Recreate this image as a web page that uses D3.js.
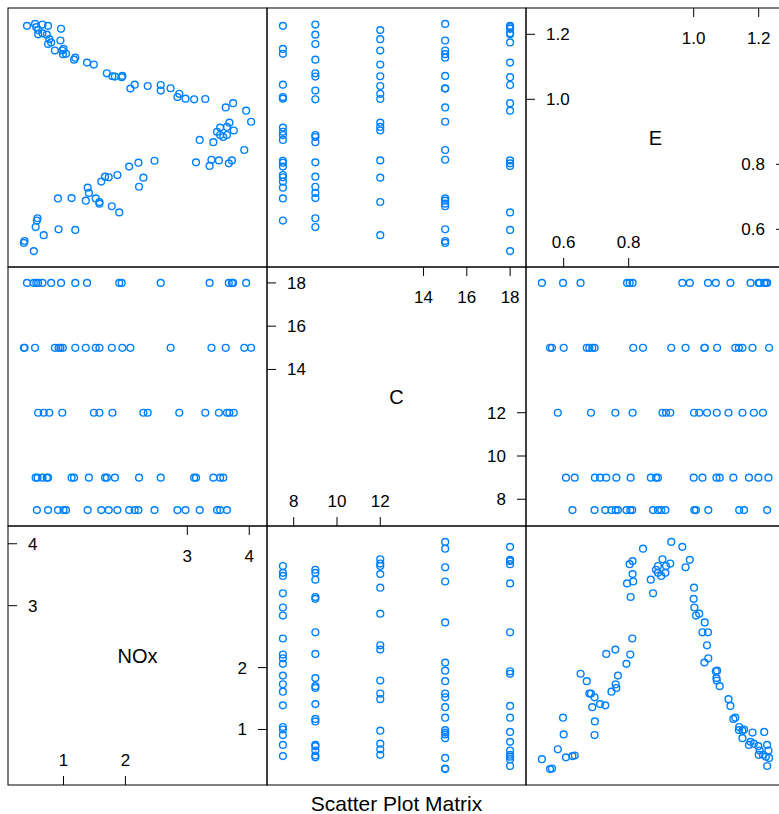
<!DOCTYPE html>
<html>
<head>
<meta charset="utf-8">
<script src="https://cdn.jsdelivr.net/npm/d3@7"></script>
<style>
  body { margin: 0; background: #fff; }
  text { font-family: "Liberation Sans", Arial, sans-serif; fill: #000; }
</style>
</head>
<body>
<svg id="splom" width="779" height="814"></svg>
<script>
// ethanol-like data (grouped by C level)
const noxVals = [
  3.64, 3.53, 3.48, 3.20, 2.97, 2.84, 2.47, 2.21, 2.15, 2.06, 1.87, 1.73, 1.61, 1.39, 1.04, 1.00, 0.91, 0.75, 0.57,
  3.58, 3.53, 3.42, 3.14, 3.11, 2.57, 2.22, 1.83, 1.70, 1.67, 1.41, 1.17, 1.13, 0.75, 0.73, 0.66, 0.58, 0.55,
  3.75, 3.68, 3.64, 3.51, 3.29, 2.87, 2.36, 2.29, 1.79, 1.58, 1.49, 0.98, 0.77, 0.68, 0.59,
  4.03, 3.92, 3.62, 3.39, 2.73, 2.08, 1.95, 1.78, 1.58, 1.52, 1.36, 1.19, 0.99, 0.95, 0.92, 0.86, 0.54, 0.37, 0.36,
  3.95, 3.74, 3.72, 3.67, 3.36, 2.57, 1.94, 1.90, 1.38, 1.19, 0.96, 0.80, 0.66, 0.59, 0.56, 0.52, 0.41
];
const cVals = [
  7.5, 7.5, 7.5, 7.5, 7.5, 7.5, 7.5, 7.5, 7.5, 7.5, 7.5, 7.5, 7.5, 7.5, 7.5, 7.5, 7.5, 7.5, 7.5,
  9, 9, 9, 9, 9, 9, 9, 9, 9, 9, 9, 9, 9, 9, 9, 9, 9, 9,
  12, 12, 12, 12, 12, 12, 12, 12, 12, 12, 12, 12, 12, 12, 12,
  15, 15, 15, 15, 15, 15, 15, 15, 15, 15, 15, 15, 15, 15, 15, 15, 15, 15, 15,
  18, 18, 18, 18, 18, 18, 18, 18, 18, 18, 18, 18, 18, 18, 18, 18, 18
];
const eVals = [
  0.890, 0.913, 0.900, 0.875, 1.002, 1.007, 0.811, 0.805, 1.045, 0.793, 0.767, 0.760, 0.747, 0.728, 1.140, 1.155, 0.695, 1.226, 0.627,
  0.884, 0.890, 0.868, 0.806, 1.000, 1.027, 0.731, 1.070, 1.080, 0.762, 0.712, 1.122, 0.696, 1.170, 1.199, 1.230, 0.634, 0.607,
  0.904, 0.928, 0.915, 0.812, 1.001, 1.017, 1.041, 0.759, 1.071, 0.684, 1.107, 1.150, 1.185, 0.582, 1.213,
  0.931, 0.844, 0.975, 0.814, 1.034, 1.033, 1.072, 0.671, 0.679, 0.695, 0.688, 1.128, 1.139, 1.181, 0.600, 1.150, 1.232, 0.564, 0.558,
  0.965, 0.988, 0.812, 0.803, 0.795, 1.044, 1.068, 0.652, 1.113, 0.598, 1.217, 1.175, 1.203, 1.200, 1.222, 0.533, 1.226
];

const varNames = ["NOx", "C", "E"];
const noxTicks = [1, 2, 3, 4];
const cTicks = [8, 10, 12, 14, 16, 18];
const eTicks = [0.6, 0.8, 1.0, 1.2];
const titleText = "Scatter Plot Matrix";

const columns = { NOx: noxVals, C: cVals, E: eVals };
const tickSets = { NOx: noxTicks, C: cTicks, E: eTicks };
const tickFmt = { NOx: d3.format("d"), C: d3.format("d"), E: d3.format(".1f") };

const svg = d3.select("#splom");
const x0 = 8, y0 = 8, P = 259;
const n = varNames.length;
const ptColor = "#0080ff";

// padded domain like lattice (7% each side)
function padded(v) {
  const ext = d3.extent(columns[v]);
  const pad = (ext[1] - ext[0]) * 0.07;
  return [ext[0] - pad, ext[1] + pad];
}
function xScale(v, col) {
  return d3.scaleLinear().domain(padded(v)).range([x0 + col * P, x0 + (col + 1) * P]);
}
function yScale(v, row) {
  return d3.scaleLinear().domain(padded(v)).range([y0 + (row + 1) * P, y0 + row * P]);
}

const rows = d3.range(n);
const data = noxVals.map((d, i) => ({ NOx: d, C: cVals[i], E: eVals[i] }));

rows.forEach(row => {
  const yv = varNames[n - 1 - row];
  d3.range(n).forEach(col => {
    const xv = varNames[col];
    const px = x0 + col * P, py = y0 + row * P;
    const g = svg.append("g");
    const xs = xScale(xv, col), ys = yScale(yv, row);

    if (xv === yv) {
      // diagonal panel: name + axis ticks
      g.append("text")
        .attr("x", px + P / 2)
        .attr("y", py + P / 2)
        .attr("dy", "0.35em")
        .attr("text-anchor", "middle")
        .style("font-size", "20px")
        .text(xv);
      const mid = d3.mean(xs.domain());
      const ticks = tickSets[xv];
      const lower = ticks.filter(t => t < mid);
      const upper = ticks.filter(t => t >= mid);
      const tl = 9;
      // bottom
      lower.forEach(t => {
        g.append("line").attr("x1", xs(t)).attr("x2", xs(t))
          .attr("y1", py + P - tl).attr("y2", py + P).attr("stroke", "#000");
        g.append("text").attr("x", xs(t)).attr("y", py + P - 25).attr("dy", "0.35em")
          .attr("text-anchor", "middle").style("font-size", "17px").text(tickFmt[xv](t));
      });
      // right
      lower.forEach(t => {
        g.append("line").attr("x1", px + P - tl).attr("x2", px + P)
          .attr("y1", ys(t)).attr("y2", ys(t)).attr("stroke", "#000");
        g.append("text").attr("x", px + P - 20).attr("y", ys(t)).attr("dy", "0.35em")
          .attr("text-anchor", "end").style("font-size", "17px").text(tickFmt[xv](t));
      });
      // top
      upper.forEach(t => {
        g.append("line").attr("x1", xs(t)).attr("x2", xs(t))
          .attr("y1", py).attr("y2", py + tl).attr("stroke", "#000");
        g.append("text").attr("x", xs(t)).attr("y", py + 30).attr("dy", "0.35em")
          .attr("text-anchor", "middle").style("font-size", "17px").text(tickFmt[xv](t));
      });
      // left
      upper.forEach(t => {
        g.append("line").attr("x1", px).attr("x2", px + tl)
          .attr("y1", ys(t)).attr("y2", ys(t)).attr("stroke", "#000");
        g.append("text").attr("x", px + 20).attr("y", ys(t)).attr("dy", "0.35em")
          .attr("text-anchor", "start").style("font-size", "17px").text(tickFmt[xv](t));
      });
    } else {
      g.selectAll("circle")
        .data(data)
        .enter()
        .append("circle")
        .attr("cx", d => xs(d[xv]))
        .attr("cy", d => ys(d[yv]))
        .attr("r", 3.4)
        .attr("fill", "none")
        .attr("stroke", ptColor)
        .attr("stroke-width", 1.4);
    }

    g.append("rect")
      .attr("x", px).attr("y", py)
      .attr("width", P).attr("height", P)
      .attr("fill", "none")
      .attr("stroke", "#000")
      .attr("stroke-width", 1);
  });
});

svg.append("text")
  .attr("x", x0 + n * P / 2)
  .attr("y", 811)
  .attr("text-anchor", "middle")
  .style("font-size", "21px")
  .text(titleText);
</script>
</body>
</html>
